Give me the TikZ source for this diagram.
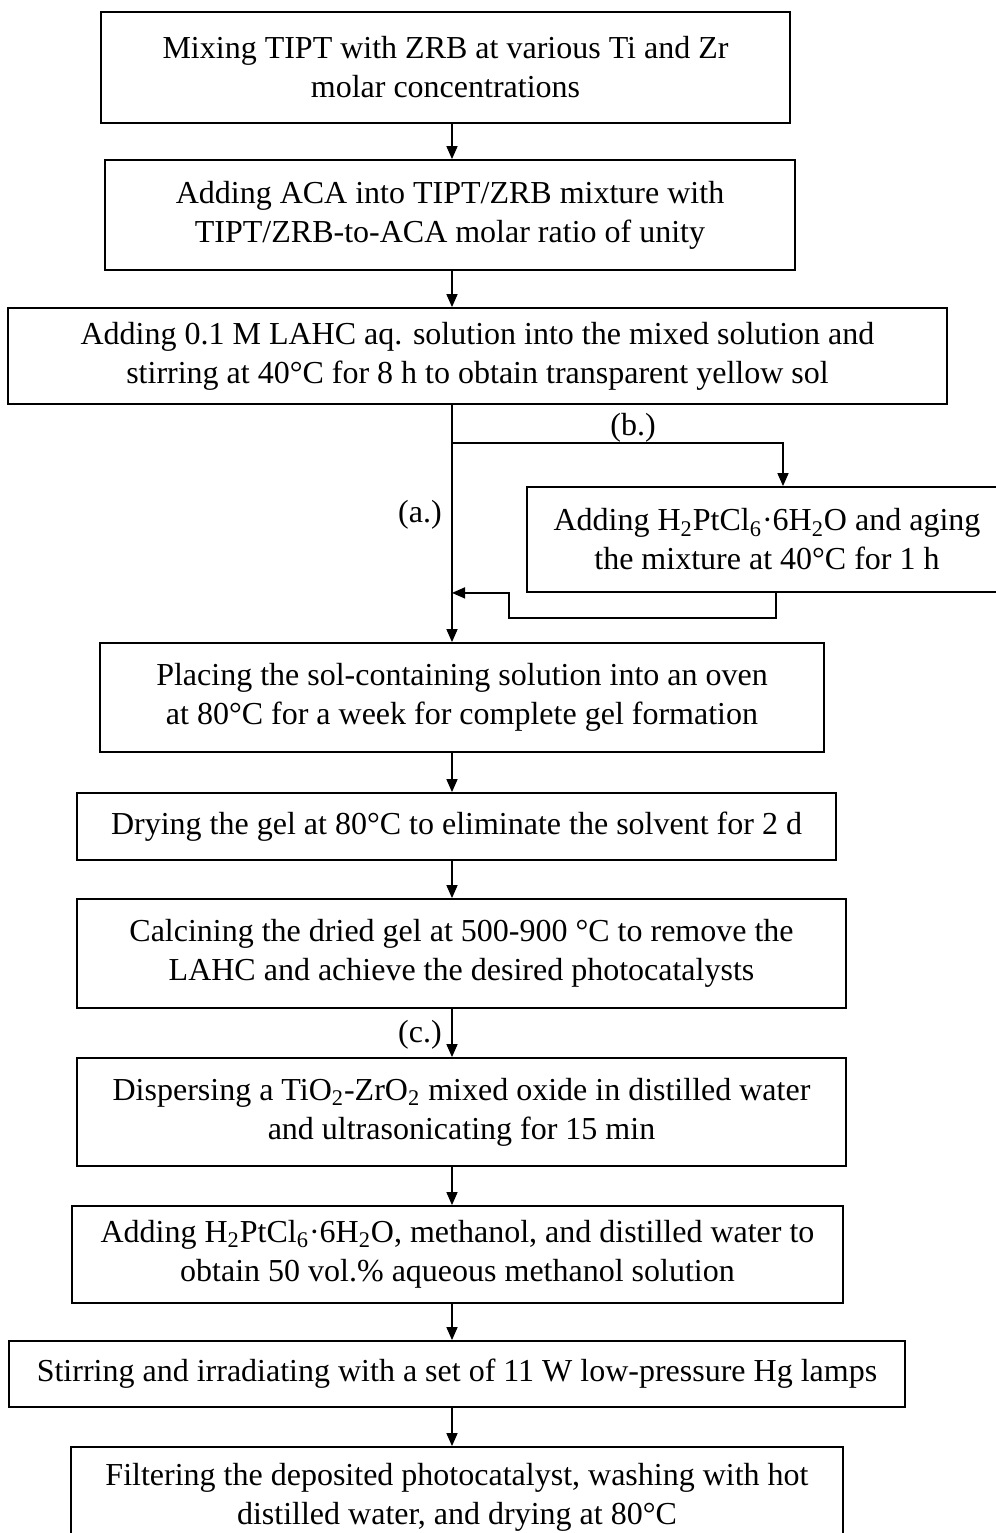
\documentclass[tikz,border=0pt]{standalone}
\usepackage{fontspec}
\setmainfont{Liberation Serif}
\usetikzlibrary{arrows.meta}

\tikzset{
	stepbox/.style={draw, line width=0.9pt, align=center, inner sep=0pt, font=\fontsize{16}{19.5}\selectfont},
	lbl/.style={inner sep=0pt, font=\fontsize{16}{19.5}\selectfont},
	flow/.style={line width=0.75pt, -{Stealth[length=6.5pt, width=5.5pt, inset=0pt]}},
}

\begin{document}
\begin{tikzpicture}[x=0.5pt, y=-0.5pt]
		\useasboundingbox (0,0) rectangle (996,1533);
		\clip (0,0) rectangle (996,1533);

		\node[stepbox, minimum width=344.5pt, minimum height=55.5pt] at (445.5, 67.5) (mix) {Mixing TIPT with ZRB at various Ti and Zr\\molar concentrations};
		\node[stepbox, minimum width=345pt, minimum height=55pt] at (450, 215) (aca) {Adding ACA into TIPT/ZRB mixture with\\TIPT/ZRB-to-ACA molar ratio of unity};
		\node[stepbox, minimum width=469.5pt, minimum height=48pt] at (477.5, 356) (lahc) {Adding 0.1 M LAHC aq. solution into the mixed solution and\\stirring at 40°C for 8 h to obtain transparent yellow sol};
		\node[stepbox, minimum width=240pt, minimum height=52.5pt] at (767, 539.5) (aging) {Adding H\textsubscript{2}PtCl\textsubscript{6}·6H\textsubscript{2}O and aging\\the mixture at 40°C for 1 h};
		\node[stepbox, minimum width=362pt, minimum height=54.5pt] at (462, 697.5) (oven) {Placing the sol-containing solution into an oven\\at 80°C for a week for complete gel formation};
		\node[stepbox, minimum width=379.5pt, minimum height=33.5pt] at (456.5, 826.5) (dry) {Drying the gel at 80°C to eliminate the solvent for 2 d};
		\node[stepbox, minimum width=384.5pt, minimum height=54.5pt] at (461.5, 953.5) (calcine) {Calcining the dried gel at 500-900 °C to remove the\\LAHC and achieve the desired photocatalysts};
		\node[stepbox, minimum width=384.5pt, minimum height=54pt] at (461.5, 1112) (disperse) {Dispersing a TiO\textsubscript{2}-ZrO\textsubscript{2} mixed oxide in distilled water\\and ultrasonicating for 15 min};
		\node[stepbox, minimum width=385.5pt, minimum height=48.5pt] at (457.5, 1254.5) (addpt) {Adding H\textsubscript{2}PtCl\textsubscript{6}·6H\textsubscript{2}O, methanol, and distilled water to\\obtain 50 vol.\% aqueous methanol solution};
		\node[stepbox, minimum width=448pt, minimum height=33pt] at (457, 1374) (irradiate) {Stirring and irradiating with a set of 11 W low-pressure Hg lamps};
		\node[stepbox, minimum width=386pt, minimum height=50pt] at (457, 1497) (filter) {Filtering the deposited photocatalyst, washing with hot\\distilled water, and drying at 80°C};

		% main line
		\coordinate (trunk) at (452, 0);
		\draw[flow] (mix.south -| trunk) -- (aca.north -| trunk);
		\draw[flow] (aca.south -| trunk) -- (lahc.north -| trunk);
		\draw[flow] (lahc.south -| trunk) -- (oven.north -| trunk);
		\foreach \a/\b in {oven/dry, dry/calcine, calcine/disperse, disperse/addpt, addpt/irradiate, irradiate/filter}
			\draw[flow] (\a.south -| trunk) -- (\b.north -| trunk);

		% side branch (b.)
		\coordinate (split) at (452, 443);
		\coordinate (bturn) at (783, 443);
		\draw[flow] (split) -- (bturn) -- (bturn |- aging.north);
		\coordinate (back1) at (776, 618);
		\coordinate (back2) at (509, 618);
		\draw[flow] (back1 |- aging.south) -- (back1) -- (back2) -- (back2 |- aging.south) -- (trunk |- aging.south);

		\node[lbl] at (633, 428) (bmark) {(b.)};
		\node[lbl] at (420, 515) (amark) {(a.)};
		\node[lbl] at (420, 1035) (cmark) {(c.)};
	\end{tikzpicture}
\end{document}
